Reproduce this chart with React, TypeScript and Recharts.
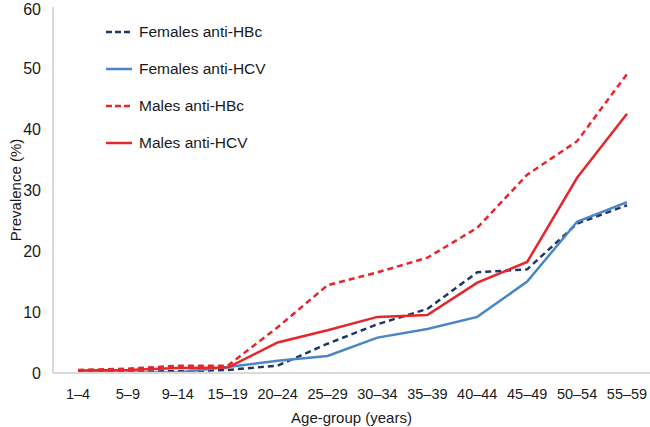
import React from 'react';
import { LineChart, Line, XAxis, YAxis } from 'recharts';

// Prevalence by age group (%)
const ageGroups = ['1–4', '5–9', '9–14', '15–19', '20–24', '25–29', '30–34', '35–39', '40–44', '45–49', '50–54', '55–59'];
const femalesHBc = [0.2, 0.2, 0.3, 0.5, 1.2, 4.8, 8, 10.5, 16.5, 17, 24.5, 27.5];
const femalesHCV = [0.1, 0.1, 0.1, 1.0, 2.0, 2.8, 5.8, 7.2, 9.2, 15, 24.8, 28];
const malesHBc = [0.5, 0.7, 1.2, 1.2, 7.5, 14.4, 16.5, 18.9, 23.8, 32.5, 38, 49];
const malesHCV = [0.4, 0.5, 0.8, 0.9, 5.0, 7.0, 9.2, 9.5, 14.8, 18.2, 32, 42.5];
const yTicks = [0, 10, 20, 30, 40, 50, 60];

const series = [
  { key: 'fHBc', name: 'Females anti-HBc', color: '#1f3768', dash: '6 4' },
  { key: 'fHCV', name: 'Females anti-HCV', color: '#4a86c5', dash: undefined },
  { key: 'mHBc', name: 'Males anti-HBc', color: '#e5262b', dash: '6 4' },
  { key: 'mHCV', name: 'Males anti-HCV', color: '#e5262b', dash: undefined },
];

const data = ageGroups.map((g, i) => ({
  group: g,
  fHBc: femalesHBc[i],
  fHCV: femalesHCV[i],
  mHBc: malesHBc[i],
  mHCV: malesHCV[i],
}));

const font = '"Liberation Sans", Arial, sans-serif';

// legend drawn as a plain list over the top-left of the plot
const LegendList = () => (
  <div style={{ position: 'absolute', left: 105, top: 13, fontFamily: font, fontSize: 15.5, color: '#1a1a1a' }}>
    {series.map((s) => (
      <div key={s.key} style={{ display: 'flex', alignItems: 'center', height: 37 }}>
        <svg width={28} height={6} style={{ marginRight: 6 }}>
          <line x1={1} y1={3} x2={27} y2={3} stroke={s.color} strokeWidth={2.5} strokeDasharray={s.dash ? '6 3' : undefined} />
        </svg>
        <span>{s.name}</span>
      </div>
    ))}
  </div>
);

const App: React.FC = () => {
  return (
    <div style={{ position: 'absolute', left: 0, top: 0, width: 650, height: 427, background: '#fff' }}>
      <LineChart width={650} height={427} data={data} margin={{ top: 7, right: 0, left: 0, bottom: 0 }}>
        <XAxis
          dataKey="group"
          axisLine={{ stroke: '#d9d9d9', strokeWidth: 2 }}
          tickLine={false}
          interval={0}
          height={54}
          padding={{ left: 25, right: 23 }}
          tick={{ fontSize: 14.5, fill: '#1a1a1a', fontFamily: font }}
          tickMargin={10}
          label={{ value: 'Age-group (years)', position: 'insideBottom', offset: 4, fontSize: 15, fill: '#1a1a1a', fontFamily: font }}
        />
        <YAxis
          domain={[0, 60]}
          ticks={yTicks}
          width={53}
          axisLine={{ stroke: '#d9d9d9', strokeWidth: 2 }}
          tickLine={false}
          tick={{ fontSize: 16, fill: '#1a1a1a', fontFamily: font }}
          tickMargin={6}
          label={{ value: 'Prevalence (%)', angle: -90, position: 'insideLeft', offset: 16, fontSize: 15, fill: '#1a1a1a', fontFamily: font, style: { textAnchor: 'middle' } }}
        />
        {series.map((s) => (
          <Line
            key={s.key}
            type="linear"
            dataKey={s.key}
            name={s.name}
            stroke={s.color}
            strokeWidth={2.5}
            strokeDasharray={s.dash}
            dot={false}
            isAnimationActive={false}
          />
        ))}
      </LineChart>
      <LegendList />
    </div>
  );
};

export default App;
